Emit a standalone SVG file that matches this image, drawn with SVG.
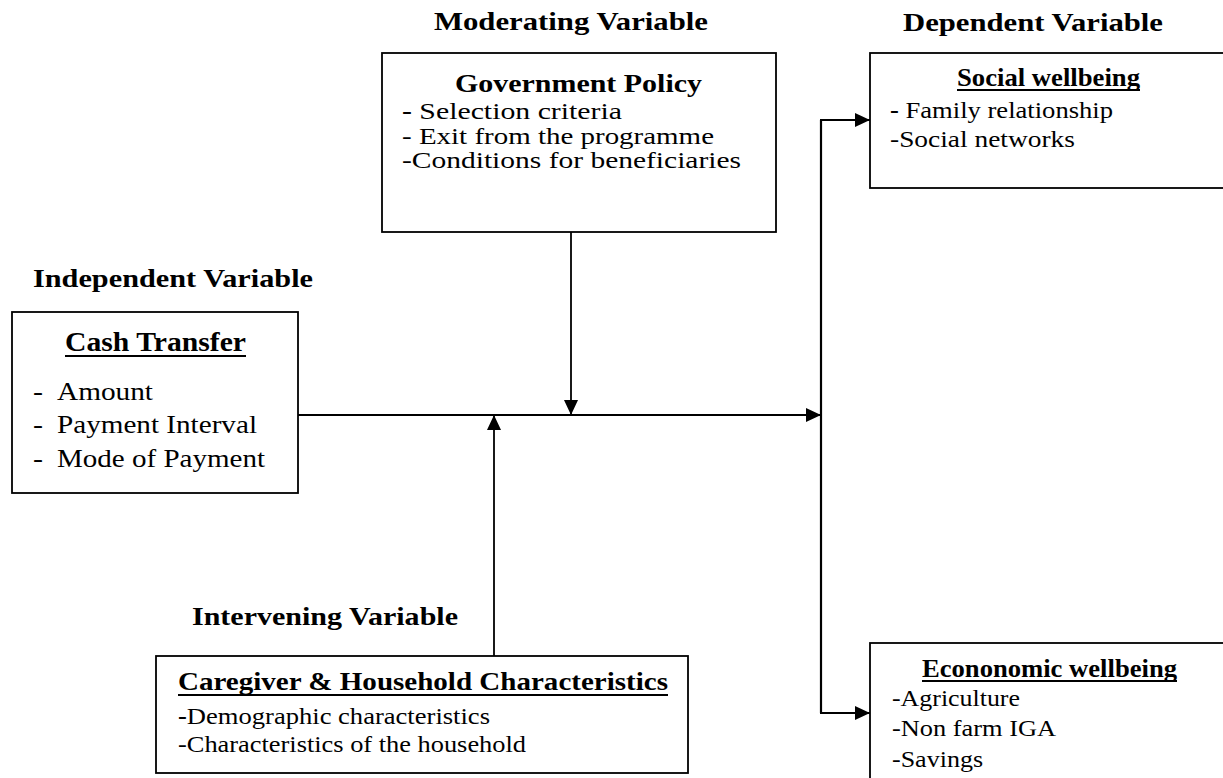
<svg xmlns="http://www.w3.org/2000/svg" width="1223" height="778" viewBox="0 0 1223 778">
<style>
text{font-family:"Liberation Serif","Times New Roman",serif;fill:#000}
.h{font-size:26px;font-weight:bold}
.t{font-size:26px;font-weight:bold}
.b{font-size:23px}
.bb{font-weight:bold}
.box{fill:#fff;stroke:#000;stroke-width:1.8}
.ul{stroke:#000;stroke-width:2}
.c{fill:none;stroke:#000;stroke-width:1.8}
</style>
<defs>
<marker id="ah" markerUnits="userSpaceOnUse" markerWidth="16" markerHeight="14" refX="15" refY="7" orient="auto">
<path d="M0,0 L15,7 L0,14 z" fill="#000"/>
</marker>
</defs>
<rect width="1223" height="778" fill="#fff"/>

<g id="headers">
<text class="h" x="434" y="30" textLength="274" lengthAdjust="spacingAndGlyphs">Moderating Variable</text>
<text class="h" x="903" y="31" textLength="260" lengthAdjust="spacingAndGlyphs">Dependent Variable</text>
<text class="h" x="33" y="287" textLength="280" lengthAdjust="spacingAndGlyphs">Independent Variable</text>
<text class="h" x="192" y="625" textLength="266" lengthAdjust="spacingAndGlyphs">Intervening Variable</text>
</g>

<g id="government">
<rect class="box" x="382" y="53" width="394" height="179"/>
<text class="t" x="455" y="92" textLength="247" lengthAdjust="spacingAndGlyphs">Government Policy</text>
<text class="b" x="402" y="119" textLength="220" lengthAdjust="spacingAndGlyphs"><tspan class="bb">-</tspan> Selection criteria</text>
<text class="b" x="402" y="144" textLength="312" lengthAdjust="spacingAndGlyphs">- Exit from the programme</text>
<text class="b" x="402" y="168" textLength="339" lengthAdjust="spacingAndGlyphs">-Conditions for beneficiaries</text>
</g>

<g id="social">
<rect class="box" x="870" y="53" width="360" height="135"/>
<text class="t" x="957" y="86" style="font-size:25px" textLength="183" lengthAdjust="spacingAndGlyphs">Social wellbeing</text>
<line class="ul" x1="957" y1="90" x2="1140" y2="90"/>
<text class="b" x="890" y="118" textLength="223" lengthAdjust="spacingAndGlyphs"><tspan class="bb">-</tspan> Family relationship</text>
<text class="b" x="890" y="147" textLength="185" lengthAdjust="spacingAndGlyphs">-Social networks</text>
</g>

<g id="cash">
<rect class="box" x="12" y="312" width="286" height="181"/>
<text class="t" x="65" y="351" style="font-size:27px" textLength="181" lengthAdjust="spacingAndGlyphs">Cash Transfer</text>
<line class="ul" x1="65" y1="356" x2="246" y2="356"/>
<text class="b" x="33" y="400" style="font-size:25px" textLength="10" lengthAdjust="spacingAndGlyphs">-</text>
<text class="b" x="57" y="400" style="font-size:25px" textLength="96" lengthAdjust="spacingAndGlyphs">Amount</text>
<text class="b" x="33" y="433" style="font-size:25px" textLength="10" lengthAdjust="spacingAndGlyphs">-</text>
<text class="b" x="57" y="433" style="font-size:25px" textLength="200" lengthAdjust="spacingAndGlyphs">Payment Interval</text>
<text class="b" x="33" y="467" style="font-size:25px" textLength="10" lengthAdjust="spacingAndGlyphs">-</text>
<text class="b" x="57" y="467" style="font-size:25px" textLength="208" lengthAdjust="spacingAndGlyphs">Mode of Payment</text>
</g>

<g id="caregiver">
<rect class="box" x="156" y="656" width="532" height="117"/>
<text class="t" x="178" y="690" textLength="490" lengthAdjust="spacingAndGlyphs">Caregiver &amp; Household Characteristics</text>
<line class="ul" x1="178" y1="695" x2="668" y2="695"/>
<text class="b" x="178" y="724" textLength="312" lengthAdjust="spacingAndGlyphs"><tspan class="bb">-</tspan>Demographic characteristics</text>
<text class="b" x="178" y="752" textLength="348" lengthAdjust="spacingAndGlyphs">-Characteristics of the household</text>
</g>

<g id="economic">
<rect class="box" x="870" y="643" width="360" height="160"/>
<text class="t" x="922" y="677" style="font-size:25px" textLength="255" lengthAdjust="spacingAndGlyphs">Econonomic wellbeing</text>
<line class="ul" x1="922" y1="681" x2="1177" y2="681"/>
<text class="b" x="892" y="706" textLength="128" lengthAdjust="spacingAndGlyphs">-Agriculture</text>
<text class="b" x="892" y="736" textLength="164" lengthAdjust="spacingAndGlyphs">-Non farm IGA</text>
<text class="b" x="892" y="767" textLength="91" lengthAdjust="spacingAndGlyphs">-Savings</text>
</g>

<g id="connectors">
<line class="c" x1="298" y1="415" x2="821" y2="415" marker-end="url(#ah)"/>
<line class="c" x1="821" y1="120" x2="821" y2="713" style="stroke-width:2.2"/>
<line class="c" x1="820" y1="120" x2="870" y2="120" marker-end="url(#ah)"/>
<line class="c" x1="820" y1="713" x2="870" y2="713" marker-end="url(#ah)"/>
<line class="c" x1="571" y1="232" x2="571" y2="415" marker-end="url(#ah)"/>
<line class="c" x1="494" y1="656" x2="494" y2="415" marker-end="url(#ah)"/>
</g>
</svg>
